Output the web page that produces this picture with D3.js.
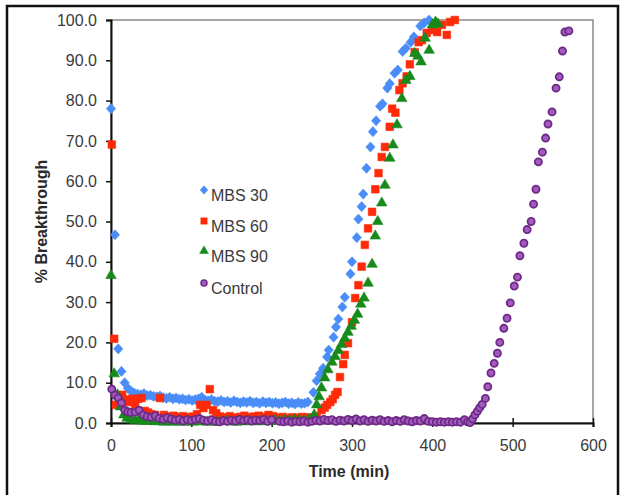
<!DOCTYPE html>
<html><head><meta charset="utf-8">
<script src="https://cdn.jsdelivr.net/npm/d3@7"></script>
<style>
html,body{margin:0;padding:0;background:#fff;}
svg{display:block;font-family:"Liberation Sans",Arial,sans-serif;}
</style></head>
<body>
<svg id="chart" width="622" height="495"></svg>
<script>
// ---- data (time in min, % breakthrough) ----
const xTicks = [0, 100, 200, 300, 400, 500, 600];
const yTicks = [0, 10, 20, 30, 40, 50, 60, 70, 80, 90, 100];
const seriesNames = ["MBS 30", "MBS 60", "MBS 90", "Control"];

const mbs30 = [[0,78.0],[5,46.7],[9,18.4],[13,12.8],[17,10.0],[21,8.6],[25,7.9],[29,7.4],[33,7.2],[37,7.0],[41,7.3],[45,6.8],[49,6.9],[53,6.6],[57,6.5],[61,6.7],[65,6.3],[69,6.1],[73,6.4],[77,6.0],[81,6.2],[85,5.9],[89,6.0],[93,5.7],[97,5.9],[101,5.6],[105,5.8],[109,6.0],[113,6.4],[117,5.7],[121,5.5],[125,5.8],[129,5.4],[133,5.3],[137,5.6],[141,5.2],[145,5.4],[149,5.1],[153,5.5],[157,5.2],[161,5.0],[165,5.3],[169,5.1],[173,5.4],[177,5.0],[181,5.2],[185,4.9],[189,5.3],[193,5.0],[197,5.2],[201,4.9],[205,5.1],[209,4.8],[213,5.0],[217,5.2],[221,4.8],[225,5.0],[229,4.7],[233,5.1],[237,4.8],[241,4.9],[245,5.2],
  [252,7.6],[256,10.5],[260,12.2],[264,13.6],[269,16.4],[271,18.1],[277,21.3],[280,23.8],[283,25.8],[288,28.8],[291,31.2],[298,37.0],[300,40.0],[306,46.0],[308,50.6],[312,53.7],[314,56.8],[318,63.2],[323,68.5],[326,72.3],[330,75.0],[335,78.6],[338,79.2],[344,83.1],[347,84.2],[353,86.8],[357,87.6],[363,92.2],[367,93.0],[373,94.5],[377,95.8],[385,98.5],[390,99.3],[396,100.0]];

const mbs60 = [[1,69.1],[4,20.9],[6,4.5],[10,6.4],[14,7.0],[18,5.8],[22,5.2],[26,6.0],[30,4.3],[34,6.0],[38,6.2],[42,3.0],[46,2.6],[50,2.2],[55,2.0],[61,6.2],[66,2.0],[72,1.6],[78,1.8],[84,1.5],[90,1.7],[96,1.4],[102,1.6],[107,2.2],[111,4.5],[115,3.7],[119,4.5],[123,8.4],[127,3.2],[131,2.4],[136,1.6],[142,1.4],[148,1.7],[154,1.3],[160,1.5],[166,1.8],[172,1.4],[178,1.6],[184,1.8],[190,1.5],[196,2.0],[202,1.7],[208,1.3],[214,1.5],[220,1.2],[226,1.4],[232,1.3],[238,1.5],[244,1.4],[250,1.3],
  [256,1.6],[262,3.2],[266,3.8],[269,4.5],[273,5.2],[276,5.9],[279,7.0],[282,7.7],[285,11.4],[289,14.6],[291,16.9],[295,19.8],[300,25.0],[304,31.0],[308,34.2],[312,38.8],[316,44.2],[320,48.3],[325,52.4],[329,58.0],[333,62.0],[337,66.0],[341,68.5],[347,73.5],[350,78.0],[354,77.0],[359,82.6],[363,84.3],[368,86.0],[372,89.0],[378,92.0],[383,94.5],[387,95.0],[393,96.8],[400,97.5],[406,97.0],[412,98.8],[418,96.3],[422,99.5],[428,100.0]];

const mbs90 = [[0,36.6],[4,12.2],[8,7.0],[12,4.0],[16,2.0],[20,1.2],[25,0.8],[30,0.6],[35,0.9],[40,0.5],[45,0.4],[50,0.6],[55,0.3],[60,0.4],[66,0.2],[72,0.3],[78,0.2],[84,0.3],[90,0.2],[96,0.3],[102,0.2],[108,0.4],[114,0.3],[120,0.2],[126,0.3],[132,0.2],[138,0.3],[144,0.4],[150,0.3],[156,0.2],[162,0.3],[168,0.4],[174,0.3],[180,0.4],[186,0.3],[192,0.5],[198,0.4],[204,0.6],[210,0.5],[216,0.7],[222,0.6],[228,0.8],[234,0.7],[240,0.6],[246,0.8],[250,0.9],
  [253,2.0],[256,4.5],[259,6.5],[262,8.7],[266,11.2],[270,13.2],[275,15.1],[279,16.5],[283,18.0],[287,19.5],[291,21.0],[295,22.5],[299,24.0],[303,25.5],[307,27.0],[311,29.5],[315,31.0],[320,34.7],[325,39.4],[329,46.4],[332,50.0],[337,54.6],[341,59.0],[347,65.7],[351,69.0],[356,74.0],[362,80.5],[367,85.0],[372,86.0],[378,91.7],[382,91.0],[386,89.6],[391,95.5],[396,92.5],[400,98.8],[404,99.5],[407,99.0]];

const control = [[1,8.4],[5,6.9],[9,6.2],[13,5.0],[17,3.2],[21,2.8],[25,2.6],[30,2.7],[35,3.2],[40,2.0],[45,1.6],[50,1.4],[55,1.8],[60,1.2],[65,0.9],[70,1.3],[75,1.0],[80,0.7],[85,0.9],[90,0.5],[95,0.8],[100,0.6],[105,0.9],[110,1.1],[115,0.7],[120,0.5],[125,0.8],[130,0.4],[135,0.3],[140,0.6],[145,0.4],[150,0.7],[155,0.5],[160,0.9],[165,0.6],[170,0.8],[175,0.5],[180,0.7],[185,0.6],[190,0.9],[195,0.4],[200,0.8],[210,0.4],[215,0.3],[220,0.5],[225,0.2],[230,0.4],[235,0.3],[240,0.5],[245,0.2],[250,0.4],[255,0.7],[260,0.5],[265,0.9],[270,0.6],[275,0.8],[280,0.4],[285,0.7],[290,0.5],[295,0.9],[300,0.6],[305,1.0],[310,0.5],[315,0.8],[320,0.4],[325,0.7],[330,0.5],[335,0.8],[340,0.4],[345,0.6],[350,0.3],[355,0.6],[360,0.4],[365,0.8],[370,0.5],[375,0.3],[380,0.6],[385,0.5],[390,1.1],[395,0.4],[400,0.3],[405,0.2],[410,0.3],[415,0.2],[420,0.3],[425,0.2],[430,0.3],[435,0.2],[440,0.8],[444,0.3],[447,0.1],
  [450,1.0],[453,2.0],[456,2.9],[459,3.8],[462,4.6],[466,6.1],[469,9.0],[473,12.4],[477,14.8],[481,17.3],[484,20.0],[489,23.5],[493,26.0],[497,29.8],[502,34.0],[506,36.2],[509,41.5],[514,44.6],[518,48.0],[523,50.0],[526,54.3],[529,58.0],[532,64.8],[537,67.2],[541,70.7],[544,74.2],[549,77.2],[554,83.1],[558,85.9],[562,92.3],[565,97.0],[570,97.3]];

// ---- layout ----
const svg = d3.select("#chart");
const L = 111, R = 593, T = 20, B = 423;
const x = d3.scaleLinear().domain([0, 600]).range([L, R]);
const y = d3.scaleLinear().domain([0, 100]).range([B, T]);
const textCol = "#3a3a3a";

// outer frame
svg.append("rect").attr("x", 7).attr("y", 6).attr("width", 611).attr("height", 500)
  .attr("fill", "none").attr("stroke", "#111").attr("stroke-width", 2.5);

// plot frame (top/right grey)
svg.append("rect").attr("x", L).attr("y", T).attr("width", R - L).attr("height", B - T)
  .attr("fill", "none").attr("stroke", "#8a8a8a").attr("stroke-width", 1.5);

// y axis
const yAxis = d3.axisLeft(y).tickValues(yTicks).tickFormat(d3.format(".1f")).tickSizeOuter(0).tickSize(5).tickPadding(9);
const gy = svg.append("g").attr("transform", `translate(${L},0)`).call(yAxis);
gy.select(".domain").attr("stroke", "#111").attr("stroke-width", 2);
gy.selectAll(".tick line").attr("stroke", "#111").attr("stroke-width", 1.5).attr("x2", -5).attr("x1", 1);
gy.selectAll(".tick text").attr("font-size", 16).attr("fill", textCol).attr("font-family", "Liberation Sans, Arial, sans-serif");

// x axis
const xAxis = d3.axisBottom(x).tickValues(xTicks).tickSizeOuter(0).tickSize(4).tickPadding(13);
const gx = svg.append("g").attr("transform", `translate(0,${B})`).call(xAxis);
gx.select(".domain").attr("stroke", "#111").attr("stroke-width", 2);
gx.selectAll(".tick line").attr("stroke", "#111").attr("stroke-width", 1.5).attr("y1", -5).attr("y2", 4);
gx.selectAll(".tick text").attr("font-size", 16).attr("fill", textCol).attr("font-family", "Liberation Sans, Arial, sans-serif");

// axis titles
svg.append("text").attr("x", (L + R) / 2 - 3).attr("y", 477).attr("text-anchor", "middle")
  .attr("font-size", 16).attr("font-weight", "bold").attr("fill", "#2a2a2a").text("Time (min)");
svg.append("text").attr("transform", `translate(47,${(T + B) / 2}) rotate(-90)`).attr("text-anchor", "middle")
  .attr("font-size", 16).attr("font-weight", "bold").attr("fill", "#2a2a2a").text("% Breakthrough");

// wider diamond like the spreadsheet marker
const wideDiamond = {
  draw(ctx, size) {
    const h = Math.sqrt(size) * 0.78, w = h * 0.92;
    ctx.moveTo(0, -h); ctx.lineTo(w, 0); ctx.lineTo(0, h); ctx.lineTo(-w, 0); ctx.closePath();
  }
};

// marker styles
const styles = [
  {data: mbs30, type: wideDiamond, size: 42, fill: "#4a8df8", stroke: "#4a8df8"},
  {data: mbs60, type: d3.symbolSquare, size: 58, fill: "#ff2a08", stroke: "#ff2a08"},
  {data: mbs90, type: d3.symbolTriangle, size: 48, fill: "#178a1c", stroke: "#178a1c"},
  {data: control, type: d3.symbolCircle, size: 40, fill: "#a25cbf", stroke: "#6e2a86"}
];

styles.forEach((s, i) => {
  const sym = d3.symbol().type(s.type).size(s.size);
  svg.append("g").selectAll("path").data(s.data).join("path")
    .attr("d", sym)
    .attr("transform", d => `translate(${x(d[0])},${y(d[1])})`)
    .attr("fill", s.fill)
    .attr("stroke", s.stroke)
    .attr("stroke-width", i === 3 ? 1.8 : 0.6);
});

// legend
const legY = [195, 226, 256, 288];
const lg = svg.append("g");
styles.forEach((s, i) => {
  const sym = d3.symbol().type(s.type).size(s.size * 0.7);
  lg.append("path").attr("d", sym)
    .attr("transform", `translate(204,${legY[i] - 5})`)
    .attr("fill", s.fill).attr("stroke", s.stroke).attr("stroke-width", i === 3 ? 1.5 : 0.5);
  lg.append("text").attr("x", 211).attr("y", legY[i] + 6)
    .attr("font-size", 16).attr("fill", textCol).text(seriesNames[i]);
});
</script>
</body></html>
